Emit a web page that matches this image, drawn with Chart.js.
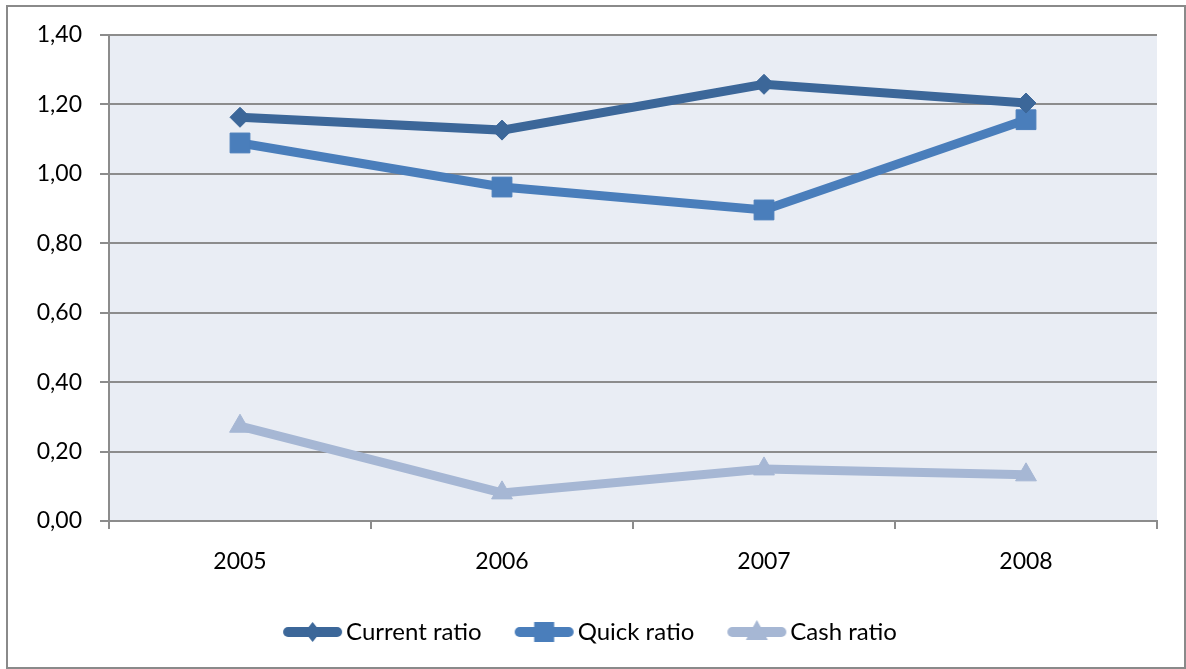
<!DOCTYPE html>
<html><head><meta charset="utf-8">
<script src="https://cdn.jsdelivr.net/npm/chart.js@4/dist/chart.umd.min.js"></script>
<style>
html,body{margin:0;padding:0;background:#fff;}
#wrap{position:absolute;left:0;top:0;width:1186px;height:669px;}
#frame{position:absolute;left:6px;top:5px;width:1180px;height:664px;border:2px solid #8a8a8a;box-sizing:border-box;}
canvas{position:absolute;left:0;top:0;}
</style></head>
<body>
<div id="wrap"><div id="frame"></div><canvas id="c" width="1186" height="669"></canvas></div>
<script>
const categories = ['2005', '2006', '2007', '2008'];
const currentRatio = [1.163, 1.126, 1.258, 1.204];
const quickRatio = [1.089, 0.962, 0.896, 1.156];
const cashRatio = [0.273, 0.081, 0.150, 0.133];
const seriesNames = ['Current ratio', 'Quick ratio', 'Cash ratio'];
const yMin = 0, yMax = 1.4, yStep = 0.2;

const colors = ['#3C6799', '#4A7EBB', '#A6B7D4'];
const markers = ['rectRot', 'rect', 'triangle'];
const radii = [10, 14, 12];

function legendImage(color, marker) {
  const c = document.createElement('canvas');
  c.width = 94; c.height = 26;
  const g = c.getContext('2d');
  g.strokeStyle = color; g.fillStyle = color;
  g.lineWidth = 10; g.lineCap = 'round';
  g.beginPath(); g.moveTo(38, 13); g.lineTo(87, 13); g.stroke();
  const cx = 62.5, cy = 13;
  g.beginPath();
  if (marker === 'rectRot') {
    g.moveTo(cx, cy - 10); g.lineTo(cx + 8, cy); g.lineTo(cx, cy + 10); g.lineTo(cx - 8, cy); g.closePath();
  } else if (marker === 'rect') {
    g.rect(cx - 10, cy - 10, 20, 20);
  } else {
    g.moveTo(cx, cy - 12); g.lineTo(cx + 11, cy + 8); g.lineTo(cx - 11, cy + 8); g.closePath();
  }
  g.fill();
  return c;
}
const legendImgs = colors.map((c, i) => legendImage(c, markers[i]));

const bgPlugin = {
  id: 'plotBg',
  beforeDraw(chart) {
    const {ctx, chartArea: a} = chart;
    ctx.save();
    ctx.fillStyle = '#E9EDF4';
    ctx.fillRect(a.left, a.top, a.right - a.left, a.bottom - a.top);
    ctx.restore();
  }
};

const seriesData = [currentRatio, quickRatio, cashRatio];
const datasets = seriesData.map((d, i) => ({
  label: seriesNames[i],
  data: d,
  borderColor: colors[i],
  backgroundColor: colors[i],
  borderWidth: 9,
  tension: 0,
  pointStyle: markers[i],
  pointRadius: radii[i],
  pointHoverRadius: radii[i],
  pointBackgroundColor: colors[i],
  pointBorderColor: colors[i],
  pointBorderWidth: 1
}));

Chart.defaults.font.family = 'Lato, "Open Sans", sans-serif';
Chart.defaults.font.size = 23;
Chart.defaults.color = '#000';

new Chart(document.getElementById('c'), {
  type: 'line',
  data: { labels: categories, datasets },
  plugins: [bgPlugin],
  options: {
    responsive: false,
    animation: false,
    devicePixelRatio: 1,
    layout: { padding: { top: 35, right: 29, bottom: 15, left: 0 } },
    plugins: {
      tooltip: { enabled: false },
      legend: {
        position: 'bottom',
        labels: {
          usePointStyle: true,
          pointStyleWidth: 74,
          padding: 10,
          font: { size: 24 },
          color: '#000',
          generateLabels(chart) {
            const items = Chart.defaults.plugins.legend.labels.generateLabels(chart);
            items.forEach((it, i) => { it.pointStyle = legendImgs[i]; });
            return items;
          }
        }
      }
    },
    scales: {
      x: {
        offset: true,
        grid: { offset: true, drawOnChartArea: false, drawTicks: true, tickLength: 8, color: '#8c8c8c', lineWidth: 2 },
        border: { display: true, color: '#8c8c8c', width: 2 },
        ticks: { padding: 19, font: { size: 23 }, color: '#000' },
        afterFit(scale) { scale.height = 89; }
      },
      y: {
        min: yMin, max: yMax,
        grid: { color: '#8c8c8c', lineWidth: 2, tickLength: 9, drawTicks: true },
        border: { display: true, color: '#8c8c8c', width: 2 },
        ticks: {
          stepSize: yStep, padding: 18, font: { size: 23 }, color: '#000',
          callback: v => Number(v).toFixed(2).replace('.', ',')
        },
        afterFit(scale) { scale.width = 109; }
      }
    }
  }
});
</script>
</body></html>
